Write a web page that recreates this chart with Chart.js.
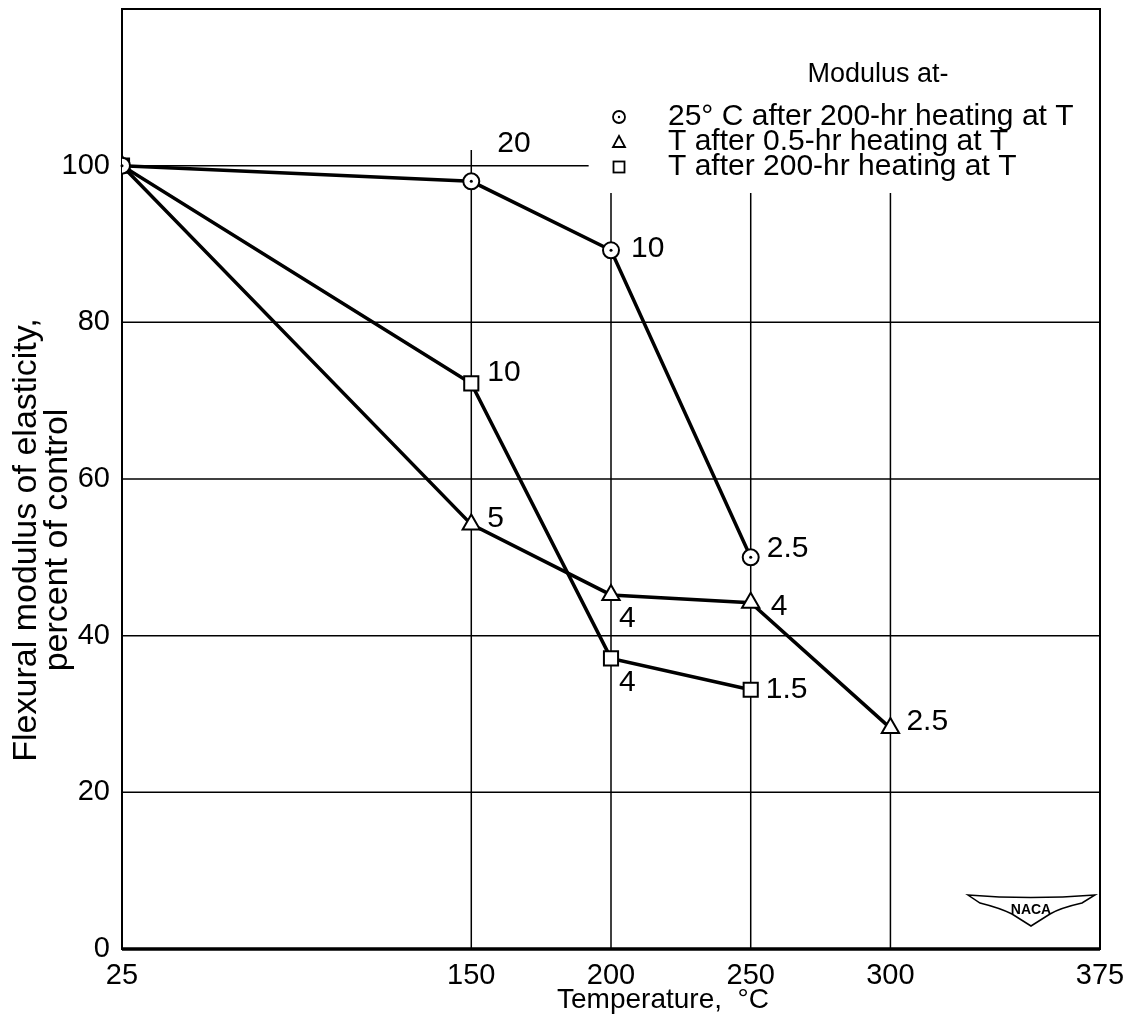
<!DOCTYPE html>
<html>

<head>
    <title>Flexural modulus vs temperature</title>
    <script src="https://cdn.jsdelivr.net/npm/chart.js"></script>
    <style>
        html, body {
            margin: 0;
            padding: 0;
            background: white;
        }

        .chart-box {
            width: 1135px;
            height: 1035px;
        }
    </style>
</head>

<body>
    <div class="chart-box">
        <canvas id="modulusChart"></canvas>
    </div>

    <script>
        // values
        const xTicks = [25, 150, 200, 250, 300, 375];

        const circleTemps = [25, 150, 200, 250];
        const circleValues = [100, 98, 89.2, 50];
        const circleNotes = ['', '20', '10', '2.5'];

        const triangleTemps = [25, 150, 200, 250, 300];
        const triangleValues = [100, 54.2, 45.2, 44.2, 28.2];
        const triangleNotes = ['', '5', '4', '4', '2.5'];

        const squareTemps = [25, 150, 200, 250];
        const squareValues = [100, 72.2, 37.1, 33.1];
        const squareNotes = ['', '10', '4', '1.5'];

        const legendTitle = 'Modulus at-';
        const legendLabels = [
            '25\u00b0 C after 200-hr heating at T',
            'T after 0.5-hr heating at T',
            'T after 200-hr heating at T'
        ];

        // where each number sits next to its point (dx, dy in px)
        const noteOffsets = [
            [null, [26, -38], [20, -2], [16, -9]],
            [null, [16, -6], [8, 24], [20, 4], [16, -6]],
            [null, [16, -11], [8, 24], [15, 0]]
        ];

        const FONT = '"Liberation Sans", Arial, sans-serif';

        function pts(xs, ys) {
            return xs.map((t, i) => ({ x: t, y: ys[i] }));
        }

        function line(ctx, x1, y1, x2, y2) {
            ctx.beginPath();
            ctx.moveTo(x1, y1);
            ctx.lineTo(x2, y2);
            ctx.stroke();
        }

        const framePlugin = {
            id: 'frame',
            beforeDatasetsDraw(chart) {
                const { ctx, chartArea: a, scales: { x, y } } = chart;
                ctx.save();
                ctx.strokeStyle = '#000';
                ctx.lineWidth = 1.5;
                // horizontal grid, the 100 line stops short of the key
                [[20, 375], [40, 375], [60, 375], [80, 375], [100, 192]].forEach(([v, end]) => {
                    line(ctx, a.left, y.getPixelForValue(v), x.getPixelForValue(end), y.getPixelForValue(v));
                });
                // vertical grid, stops below the key
                [[150, 102], [200, 96.5], [250, 96.5], [300, 96.5]].forEach(([t, top]) => {
                    line(ctx, x.getPixelForValue(t), a.bottom, x.getPixelForValue(t), y.getPixelForValue(top));
                });
                ctx.lineWidth = 2;
                ctx.strokeRect(a.left, a.top, a.right - a.left, a.bottom - a.top);
                ctx.lineWidth = 3.5;
                line(ctx, a.left, a.bottom, a.right, a.bottom);
                ctx.restore();
            },
            afterDatasetsDraw(chart) {
                const { ctx } = chart;
                ctx.save();
                // dots inside the circle markers
                chart.getDatasetMeta(0).data.forEach(p => {
                    ctx.beginPath();
                    ctx.arc(p.x, p.y, 1.5, 0, Math.PI * 2);
                    ctx.fillStyle = '#000';
                    ctx.fill();
                });
                // numbers by the points
                ctx.font = '30px ' + FONT;
                ctx.fillStyle = '#000';
                ctx.textAlign = 'left';
                ctx.textBaseline = 'middle';
                [circleNotes, triangleNotes, squareNotes].forEach((notes, d) => {
                    const meta = chart.getDatasetMeta(d);
                    notes.forEach((txt, i) => {
                        if (!txt) return;
                        const off = noteOffsets[d][i];
                        const p = meta.data[i];
                        ctx.fillText(txt, p.x + off[0], p.y + off[1]);
                    });
                });

                // key
                ctx.font = '27px ' + FONT;
                ctx.textAlign = 'center';
                ctx.fillText(legendTitle, 878, 75);
                ctx.font = '30px ' + FONT;
                ctx.textAlign = 'left';
                const rows = [117, 142, 167];
                legendLabels.forEach((txt, i) => {
                    ctx.fillText(txt, 668, rows[i]);
                });
                ctx.strokeStyle = '#000';
                ctx.lineWidth = 1.8;
                const mx = 619;
                ctx.beginPath();
                ctx.arc(mx, rows[0], 6, 0, Math.PI * 2);
                ctx.stroke();
                ctx.beginPath();
                ctx.arc(mx, rows[0], 1.2, 0, Math.PI * 2);
                ctx.fill();
                ctx.beginPath();
                ctx.moveTo(mx - 6, rows[1] + 5);
                ctx.lineTo(mx + 6, rows[1] + 5);
                ctx.lineTo(mx, rows[1] - 6);
                ctx.closePath();
                ctx.stroke();
                ctx.strokeRect(mx - 5.5, rows[2] - 5.5, 11, 11);

                // axis titles
                ctx.font = '28px ' + FONT;
                ctx.textAlign = 'center';
                ctx.fillText('Temperature,  \u00b0C', 663, 1000);
                ctx.save();
                ctx.translate(27, 540);
                ctx.rotate(-Math.PI / 2);
                ctx.font = '34px ' + FONT;
                ctx.fillText('Flexural modulus of elasticity,', 0, 0);
                ctx.fillText('percent of control', 0, 31);
                ctx.restore();

                // NACA wing badge
                ctx.lineWidth = 1.5;
                ctx.beginPath();
                ctx.moveTo(968, 895);
                ctx.quadraticCurveTo(1030, 900, 1095, 895);
                ctx.lineTo(1082, 903);
                ctx.quadraticCurveTo(1060, 908, 1050, 914);
                ctx.lineTo(1031, 926);
                ctx.lineTo(1012, 914);
                ctx.quadraticCurveTo(1000, 908, 980, 903);
                ctx.closePath();
                ctx.stroke();
                ctx.font = 'bold 14px ' + FONT;
                ctx.fillText('NACA', 1031, 910);
                ctx.restore();
            }
        };

        function series(label, data, style, radius) {
            return {
                label: label,
                data: data,
                borderColor: '#000',
                borderWidth: 3.5,
                pointStyle: style,
                pointRadius: radius,
                pointBorderWidth: 2,
                pointBackgroundColor: '#fff',
                pointBorderColor: '#000',
                showLine: true,
                fill: false,
                tension: 0
            };
        }

        function createChart() {
            const ctx = document.getElementById('modulusChart').getContext('2d');
            new Chart(ctx, {
                type: 'scatter',
                data: {
                    datasets: [
                        series(legendLabels[0], pts(circleTemps, circleValues), 'circle', 8),
                        series(legendLabels[1], pts(triangleTemps, triangleValues), 'triangle', 10),
                        series(legendLabels[2], pts(squareTemps, squareValues), 'rect', 10)
                    ]
                },
                options: {
                    responsive: true,
                    maintainAspectRatio: false,
                    animation: false,
                    layout: {
                        autoPadding: false,
                        padding: { top: 9, right: 35, left: 0, bottom: 0 }
                    },
                    plugins: {
                        legend: { display: false },
                        tooltip: { enabled: false }
                    },
                    scales: {
                        x: {
                            type: 'linear',
                            min: 25,
                            max: 375,
                            afterBuildTicks: s => { s.ticks = xTicks.map(v => ({ value: v })); },
                            afterFit: s => {
                                s.height = 86;
                                s.paddingLeft = 0;
                                s.paddingRight = 0;
                            },
                            grid: { display: false, drawTicks: false },
                            border: { display: false },
                            ticks: {
                                color: '#000',
                                padding: 10,
                                maxRotation: 0,
                                autoSkip: false,
                                font: { size: 29, family: FONT }
                            }
                        },
                        y: {
                            min: 0,
                            max: 120,
                            afterFit: s => {
                                s.width = 122;
                                s.paddingTop = 0;
                                s.paddingBottom = 0;
                            },
                            grid: { display: false, drawTicks: false },
                            border: { display: false },
                            ticks: {
                                stepSize: 20,
                                color: '#000',
                                padding: 12,
                                font: { size: 29, family: FONT },
                                callback: v => (v > 100 ? '' : v)
                            }
                        }
                    }
                },
                plugins: [framePlugin]
            });
        }

        document.addEventListener('DOMContentLoaded', createChart);
    </script>
</body>

</html>
